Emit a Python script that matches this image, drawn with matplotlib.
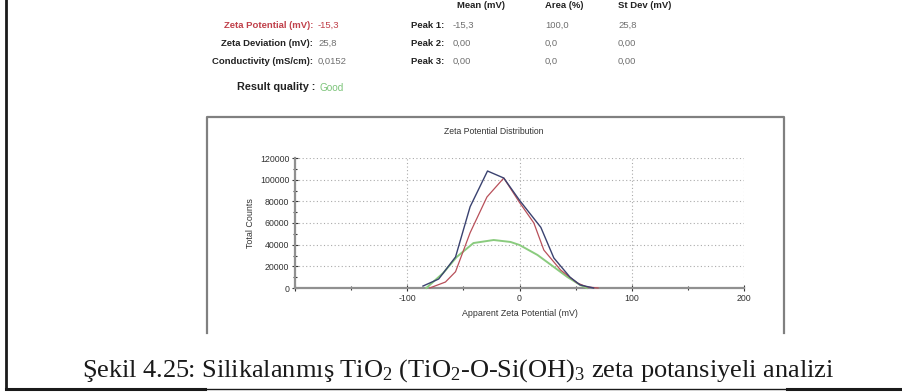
import matplotlib.pyplot as plt
from matplotlib.lines import Line2D
from matplotlib.ticker import MultipleLocator, FuncFormatter

# ----------------------------
# Data
# ----------------------------

summary_labels = ["Zeta Potential (mV):", "Zeta Deviation (mV):", "Conductivity (mS/cm):"]
summary_values = ["-15,3", "25,8", "0,0152"]

peak_labels = ["Peak 1:", "Peak 2:", "Peak 3:"]
peak_headers = ["Mean (mV)", "Area (%)", "St Dev (mV)"]
peak_mean = ["-15,3", "0,00", "0,00"]
peak_area = ["100,0", "0,0", "0,0"]
peak_stdev = ["25,8", "0,00", "0,00"]

quality_label = "Result quality :"
quality_value = "Good"

# apparent zeta potential (mV) vs total counts, three runs
blue_x = [-86, -72, -57, -44, -28.5, -14, 0, 19, 30.6, 45, 54, 66]
blue_y = [1800, 8300, 28600, 75000, 108000, 101500, 81000, 56000, 27700, 10000, 2800, 0]

red_x = [-80, -66, -57, -44, -29, -14, 0, 12.8, 21.7, 36.6, 51.5, 60, 70]
red_y = [0, 5500, 15000, 51000, 84000, 101500, 79000, 60000, 35000, 16600, 4600, 1000, 0]

green_x = [-83, -68, -56, -41, -23, -8, 0, 16, 30.6, 42.6, 54, 60]
green_y = [0, 13800, 28600, 41500, 44300, 42500, 39700, 30500, 19400, 10200, 2800, 0]

caption = (r"Şekil 4.25: Silikalanmış TiO$_2$ (TiO$_2$-O-Si(OH)$_3$ "
           r"zeta potansiyeli analizi")

W, H = 902, 392

plt.rcParams["font.family"] = ["Liberation Sans", "DejaVu Sans"]
plt.rcParams["axes.unicode_minus"] = False
plt.rcParams["mathtext.fontset"] = "custom"
plt.rcParams["mathtext.rm"] = "Liberation Serif"
plt.rcParams["mathtext.it"] = "Liberation Serif:italic"


def fx(x):
    return x / W


def fy(y):
    return 1 - y / H


fig = plt.figure(figsize=(W / 100, H / 100), dpi=100)
fig.patch.set_facecolor("white")

# ----------------------------
# Summary block at the top
# ----------------------------
label_col = "#222222"
value_col = "#707070"
red_col = "#c0404a"
fs = 6.8
row_y = [25, 43, 61]

for i, (lab, val) in enumerate(zip(summary_labels, summary_values)):
    fig.text(fx(313), fy(row_y[i]), lab, ha="right", va="center",
             fontsize=fs, fontweight="bold", color=red_col if i == 0 else label_col)
    fig.text(fx(318), fy(row_y[i]), val, ha="left", va="center",
             fontsize=fs, color=red_col if i == 0 else value_col)

for j, head in enumerate(peak_headers):
    fig.text(fx([457, 545, 618][j]), fy(5), head, ha="left", va="center",
             fontsize=fs, fontweight="bold", color=label_col)

for i, lab in enumerate(peak_labels):
    fig.text(fx(411), fy(row_y[i]), lab, ha="left", va="center",
             fontsize=fs, fontweight="bold", color=label_col)
    fig.text(fx(453), fy(row_y[i]), peak_mean[i], ha="left", va="center",
             fontsize=fs, color=value_col)
    fig.text(fx(545), fy(row_y[i]), peak_area[i], ha="left", va="center",
             fontsize=fs, color=value_col)
    fig.text(fx(618), fy(row_y[i]), peak_stdev[i], ha="left", va="center",
             fontsize=fs, color=value_col)

fig.text(fx(315), fy(87), quality_label, ha="right", va="center",
         fontsize=7.8, fontweight="bold", color=label_col)
fig.text(fx(320), fy(88), quality_value, ha="left", va="center",
         fontsize=7.2, color="#7cc47a")

# ----------------------------
# Chart panel frame (open at the bottom)
# ----------------------------
fig.add_artist(Line2D([fx(207), fx(207), fx(784), fx(784)],
                      [fy(333), fy(117), fy(117), fy(333)],
                      color="#808080", lw=1.6))

fig.text(fx(494), fy(132), "Zeta Potential Distribution", ha="center",
         va="center", fontsize=6.2, color="#333333")

ax = fig.add_axes([fx(295), fy(288), fx(744) - fx(295), fy(158) - fy(288)])
ax.set_xlim(-200, 200)
ax.set_ylim(0, 120000)

ax.plot(green_x, green_y, color="#8acb7e", lw=1.4, zorder=3, clip_on=False)
ax.plot(red_x, red_y, color="#b8505a", lw=0.9, zorder=4, clip_on=False)
ax.plot(blue_x, blue_y, color="#3a4270", lw=1.0, zorder=5, clip_on=False)

ax.xaxis.set_major_locator(MultipleLocator(100))
ax.xaxis.set_minor_locator(MultipleLocator(50))
ax.yaxis.set_major_locator(MultipleLocator(20000))
ax.yaxis.set_minor_locator(MultipleLocator(10000))
# the left-most x label is not shown in the reference
ax.xaxis.set_major_formatter(FuncFormatter(lambda v, p: "" if v <= -200 else f"{v:.0f}"))

ax.grid(True, which="major", color="#aaaaaa", linestyle=(0, (1, 2.2)), lw=0.8)
ax.set_axisbelow(True)

for s in ["top", "right"]:
    ax.spines[s].set_visible(False)
for s in ["left", "bottom"]:
    ax.spines[s].set_color("#909090")
    ax.spines[s].set_linewidth(1.6)

ax.tick_params(which="both", direction="inout", color="#333333", width=0.8,
               labelsize=6.3, labelcolor="#333333", pad=2)
ax.tick_params(which="major", length=4)
ax.tick_params(which="minor", length=3)

ax.set_xlabel("Apparent Zeta Potential (mV)", fontsize=6.4, color="#333333",
              labelpad=5)
ax.set_ylabel("Total Counts", fontsize=6.4, color="#333333", labelpad=4)
ax.set_facecolor("none")

# ----------------------------
# Outer page frame + caption
# ----------------------------
fig.add_artist(Line2D([fx(6), fx(6)], [fy(0), fy(389)], color="#1a1a1a", lw=2.0))
fig.add_artist(Line2D([fx(6), fx(902)], [fy(389), fy(389)], color="#1a1a1a", lw=1.0))
fig.add_artist(Line2D([fx(6), fx(205)], [fy(389), fy(389)], color="#1a1a1a", lw=2.2))
fig.add_artist(Line2D([fx(787), fx(902)], [fy(389), fy(389)], color="#1a1a1a", lw=2.2))

fig.text(fx(458), fy(371), caption, ha="center", va="center", fontsize=19,
         family="Liberation Serif", color="#1a1a1a")

fig.savefig("out.png", dpi=100, facecolor="white")
